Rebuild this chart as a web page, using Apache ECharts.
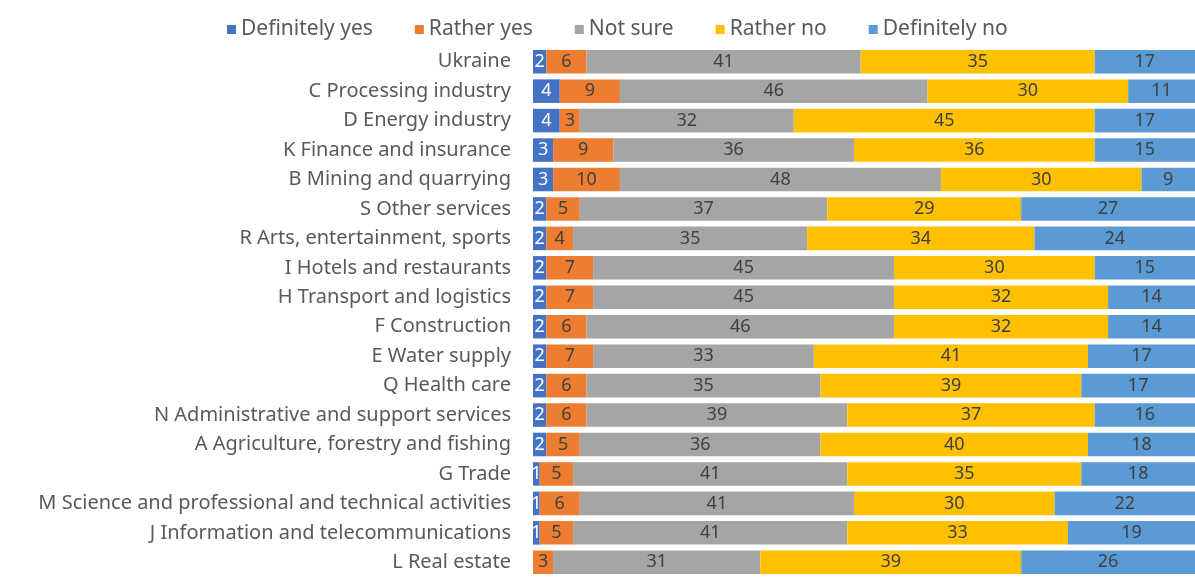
<!DOCTYPE html>
<html>
<head>
<meta charset="utf-8">
<script src="https://cdn.jsdelivr.net/npm/echarts@6/dist/echarts.min.js"></script>
<style>
  html, body { margin: 0; padding: 0; background: #ffffff; }
  #chart { width: 1195px; height: 577px; }
</style>
</head>
<body>
<div id="chart"></div>
<script>
// Sectors, listed top to bottom
const categories = [
  'Ukraine',
  'C Processing industry',
  'D Energy industry',
  'K Finance and insurance',
  'B Mining and quarrying',
  'S Other services',
  'R Arts, entertainment, sports',
  'I Hotels and restaurants',
  'H Transport and logistics',
  'F Construction',
  'E Water supply',
  'Q Health care',
  'N Administrative and support services',
  'A Agriculture, forestry and fishing',
  'G Trade',
  'M Science and professional and technical activities',
  'J Information and telecommunications',
  'L Real estate'
];

// Share of answers, %
const definitelyYes = [2, 4, 4, 3, 3, 2, 2, 2, 2, 2, 2, 2, 2, 2, 1, 1, 1, 0];
const ratherYes     = [6, 9, 3, 9, 10, 5, 4, 7, 7, 6, 7, 6, 6, 5, 5, 6, 5, 3];
const notSure       = [41, 46, 32, 36, 48, 37, 35, 45, 45, 46, 33, 35, 39, 36, 41, 41, 41, 31];
const ratherNo      = [35, 30, 45, 36, 30, 29, 34, 30, 32, 32, 41, 39, 37, 40, 35, 30, 33, 39];
const definitelyNo  = [17, 11, 17, 15, 9, 27, 24, 15, 14, 14, 17, 17, 16, 18, 18, 22, 19, 26];

const seriesNames = ['Definitely yes', 'Rather yes', 'Not sure', 'Rather no', 'Definitely no'];
const seriesData = [definitelyYes, ratherYes, notSure, ratherNo, definitelyNo];
const colors = ['#4472C4', '#ED7D31', '#A5A5A5', '#FFC000', '#5B9BD5'];
const labelColors = ['#ffffff', '#404040', '#404040', '#404040', '#404040'];

const FONT = 'Noto Sans, sans-serif';

const chart = echarts.init(document.getElementById('chart'), null, { renderer: 'canvas' });

chart.setOption({
  animation: false,
  color: colors,
  legend: {
    top: 14,
    left: 222,
    itemWidth: 9,
    itemHeight: 9,
    itemGap: 42,
    icon: 'rect',
    textStyle: { color: '#595959', fontSize: 21, fontFamily: FONT }
  },
  grid: {
    left: 533,
    right: 0,
    top: 47,
    bottom: -5,
    containLabel: false
  },
  // the visible plot ends just short of the 100 % mark
  xAxis: {
    type: 'value',
    min: 0,
    max: 99,
    show: false
  },
  yAxis: {
    type: 'category',
    inverse: true,
    data: categories,
    axisLine: { show: false },
    axisTick: { show: false },
    axisLabel: { color: '#595959', fontSize: 20, fontFamily: FONT, margin: 22 }
  },
  series: seriesNames.map((name, i) => ({
    name: name,
    type: 'bar',
    stack: 'total',
    barWidth: '80%',
    data: seriesData[i],
    itemStyle: { color: colors[i] },
    label: {
      show: true,
      position: 'inside',
      color: labelColors[i],
      fontSize: 18,
      fontFamily: FONT,
      formatter: p => (p.value > 0 ? p.value : '')
    }
  }))
});
</script>
</body>
</html>
